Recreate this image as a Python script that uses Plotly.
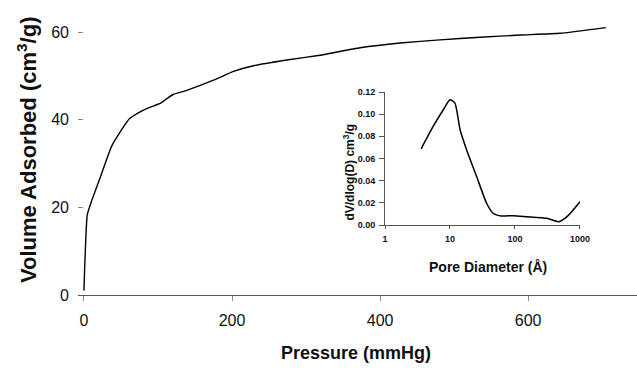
import plotly.graph_objects as go

# Main isotherm data
pressure = [0, 4.5, 10, 22, 37, 49, 62, 76, 89, 103, 112, 121, 139, 175, 202, 229, 274, 319,
            373, 427, 481, 535, 589, 643, 705]
volume = [1.0, 18.3, 21.3, 26.8, 33.8, 37.2, 40.3, 41.8, 42.8, 43.7, 44.8, 45.8, 46.7, 49.0,
          51.0, 52.3, 53.6, 54.7, 56.4, 57.5, 58.2, 58.8, 59.3, 59.7, 61.0]

# Inset pore size distribution
pore_d = [3.6, 5.5, 7.9, 10, 11.9, 14.3, 18, 25.7, 36.6, 46, 62, 94, 151, 309, 468, 631, 1000]
dv_dlogd = [0.0687, 0.0889, 0.104, 0.113, 0.110, 0.086, 0.068, 0.0437, 0.0196, 0.0106,
            0.0081, 0.0084, 0.0075, 0.006, 0.003, 0.0075, 0.021]

main_xticks = [0, 200, 400, 600]
main_yticks = [0, 20, 40, 60]
inset_xticks = [1, 10, 100, 1000]
inset_yticks = [0, 0.02, 0.04, 0.06, 0.08, 0.10, 0.12]

FONT = "Liberation Sans, Arial, sans-serif"

fig = go.Figure()
fig.add_trace(go.Scatter(x=pressure, y=volume, mode="lines",
                         line=dict(color="black", width=1.4, shape="spline", smoothing=0.4),
                         xaxis="x", yaxis="y", showlegend=False))
fig.add_trace(go.Scatter(x=pore_d, y=dv_dlogd, mode="lines",
                         line=dict(color="black", width=1.5, shape="spline", smoothing=0.6),
                         xaxis="x2", yaxis="y2", showlegend=False))

fig.update_layout(
    width=637, height=368,
    margin=dict(l=78, r=0, t=0, b=73, pad=0),
    paper_bgcolor="white", plot_bgcolor="white",
    font=dict(family=FONT, color="black"),
    xaxis=dict(domain=[0, 1], range=[-8, 747], tickvals=main_xticks, automargin=False,
               showgrid=False, zeroline=False, showline=True, linecolor="#555", linewidth=1,
               ticks="outside", ticklen=5, tickcolor="#888",
               tickfont=dict(size=16, color="#111"), ticklabelstandoff=6),
    yaxis=dict(domain=[0, 1], range=[0, 67.3], tickvals=main_yticks, automargin=False,
               showgrid=False, zeroline=False, showline=False,
               ticks="inside", ticklen=5, tickcolor="#888",
               tickfont=dict(size=16, color="#111"), ticklabelstandoff=8),
    xaxis2=dict(domain=[0.5492, 0.898], anchor="y2", type="log", range=[0, 3], automargin=False,
                tickvals=inset_xticks, ticktext=["1", "10", "100", "1000"],
                showgrid=False, zeroline=False, showline=True, linecolor="#555", linewidth=1,
                ticks="outside", ticklen=3, tickcolor="#555",
                tickfont=dict(size=9, color="#111", weight="bold"), ticklabelstandoff=2),
    yaxis2=dict(domain=[0.2373, 0.6881], anchor="x2", range=[0, 0.12], automargin=False,
                tickvals=inset_yticks, tickformat=".2f",
                showgrid=False, zeroline=False, showline=True, linecolor="#555", linewidth=1,
                ticks="outside", ticklen=5, tickcolor="#555",
                tickfont=dict(size=9, color="#111", weight="bold"), ticklabelstandoff=2),
    annotations=[
        dict(text="<b>Volume Adsorbed (cm<sup>3</sup>/g)</b>", xref="paper", yref="paper",
             x=-0.0912, y=0.4915, xanchor="center", yanchor="middle", textangle=-90,
             showarrow=False, font=dict(size=22, color="#111")),
        dict(text="<b>Pressure (mmHg)</b>", xref="paper", yref="paper",
             x=0.497, y=-0.197, xanchor="center", yanchor="middle",
             showarrow=False, font=dict(size=18, color="#111")),
        dict(text="<b>dV/dlog(D) cm<sup>3</sup>/g</b>", xref="paper", yref="paper",
             x=0.4848, y=0.415, xanchor="center", yanchor="middle", textangle=-90,
             showarrow=False, font=dict(size=12, color="#111")),
        dict(text="<b>Pore Diameter (Å)</b>", xref="paper", yref="paper",
             x=0.7335, y=0.0949, xanchor="center", yanchor="middle",
             showarrow=False, font=dict(size=14, color="#111")),
    ],
)

fig.write_html("out.html")
